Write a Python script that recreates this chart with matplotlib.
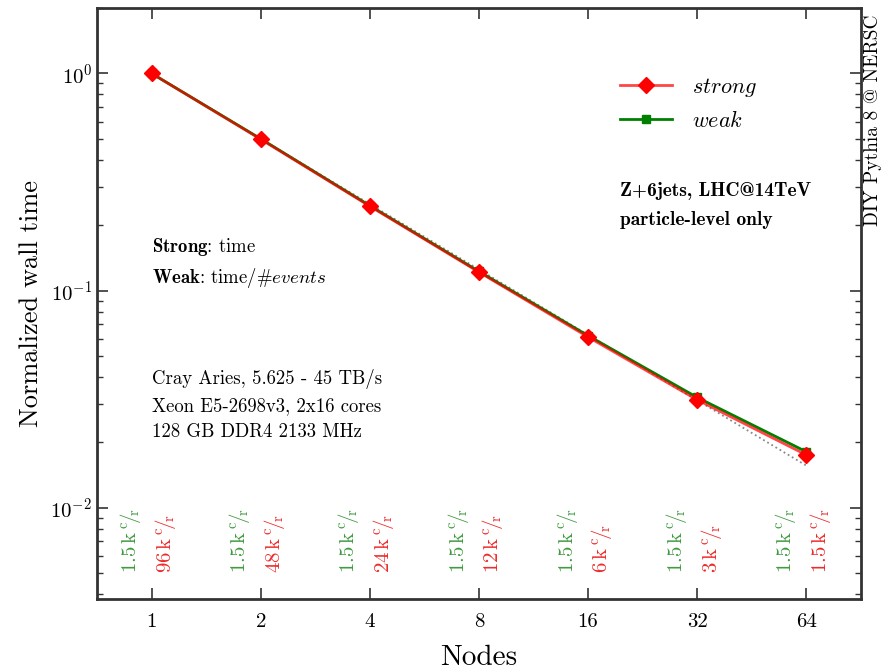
import numpy as np
import matplotlib.pyplot as plt
from matplotlib.ticker import FixedLocator, FixedFormatter, NullLocator

plt.rcParams['font.family'] = ['cmr10', 'DejaVu Serif']
plt.rcParams['mathtext.fontset'] = 'cm'
plt.rcParams['axes.unicode_minus'] = False
plt.rcParams['axes.formatter.use_mathtext'] = True

# data
nodes = [1, 2, 4, 8, 16, 32, 64]
strong = [1.0, 0.4975, 0.2446, 0.1216, 0.0611, 0.0314, 0.0175]
weak = [1.0, 0.500, 0.2460, 0.1225, 0.0620, 0.0322, 0.0181]
ideal = [1.0, 0.5, 0.25, 0.125, 0.0625, 0.03125, 0.015625]
weak_labels = ['1.5', '1.5', '1.5', '1.5', '1.5', '1.5', '1.5']
strong_labels = ['96', '48', '24', '12', '6', '3', '1.5']

green = '#3f9a3f'
red = '#ee2a2a'

fig = plt.figure(figsize=(8.94, 6.7), dpi=100)
ax = fig.add_axes([0.1085, 0.106, 0.8545, 0.882])

ax.plot(nodes, ideal, ':', color='#888888', lw=1.3, zorder=1)
weak_line, = ax.plot(nodes, weak, '-s', color='#008000', lw=2, ms=6, zorder=2)
# semi-transparent red line over the green one (brownish like the original)
strong_line, = ax.plot(nodes, strong, '-', color='#ff0000', alpha=0.72, lw=2, zorder=3)
strong_marks, = ax.plot(nodes, strong, 'D', color='#ff0000', ms=8, zorder=4)

ax.set_xscale('log', base=2)
ax.set_yscale('log')
ax.set_xlim(1 / np.sqrt(2), 64 * np.sqrt(2))
ax.set_ylim(0.0038, 2.0)
ax.xaxis.set_major_locator(FixedLocator(nodes))
ax.xaxis.set_major_formatter(FixedFormatter([str(n) for n in nodes]))
ax.xaxis.set_minor_locator(NullLocator())

ax.tick_params(which='both', direction='in', top=True, right=True, labelsize=15, color='#333333')
ax.tick_params(which='major', length=8, width=1.2)
ax.tick_params(which='minor', length=4, width=1.0)
ax.tick_params(axis='x', pad=10)
for s in ax.spines.values():
    s.set_linewidth(2)
    s.set_color('#333333')

ax.set_xlabel('Nodes', fontsize=21, labelpad=10)
ax.set_ylabel('Normalized wall time', fontsize=19)
ax.yaxis.set_label_coords(-0.071, 0.5)

ax.legend([(strong_line, strong_marks), weak_line], [r'$strong$', r'$weak$'],
          loc='upper left', bbox_to_anchor=(0.673, 0.90), borderaxespad=0, frameon=False,
          fontsize=16, handlelength=2.35, handletextpad=0.9, labelspacing=0.5)

ax.text(0.685, 0.705, 'Z+6jets, LHC@14TeV\nparticle-level only', transform=ax.transAxes,
        fontsize=14, family=['cmb10', 'DejaVu Serif'], va='top', linespacing=1.75)
ax.text(0.072, 0.615, r'$\mathbf{Strong}$: time' + '\n' + r'$\mathbf{Weak}$: time/#$events$',
        transform=ax.transAxes, fontsize=13.5, va='top', linespacing=1.5)
ax.text(0.072, 0.39, 'Cray Aries, 5.625 - 45 TB/s\nXeon E5-2698v3, 2x16 cores\n128 GB DDR4 2133 MHz',
        transform=ax.transAxes, fontsize=13.5, va='top', linespacing=1.6)

unit = r'$\,\mathrm{k}\,{}^{\mathrm{c}}\!/\!_{\mathrm{r}}$'
for n, wl, sl in zip(nodes, weak_labels, strong_labels):
    ax.annotate(wl + unit, xy=(n, 0.005), xytext=(-15, 0),
                textcoords='offset points', rotation=90, ha='center', va='bottom',
                color=green, fontsize=15)
    ax.annotate(sl + unit, xy=(n, 0.005), xytext=(10, 0),
                textcoords='offset points', rotation=90, ha='center', va='bottom',
                color=red, fontsize=15)

fig.text(0.977, 0.978, 'DIY Pythia 8 @ NERSC', rotation=90, ha='center', va='top', fontsize=14)

fig.savefig('out.png', dpi=100)
